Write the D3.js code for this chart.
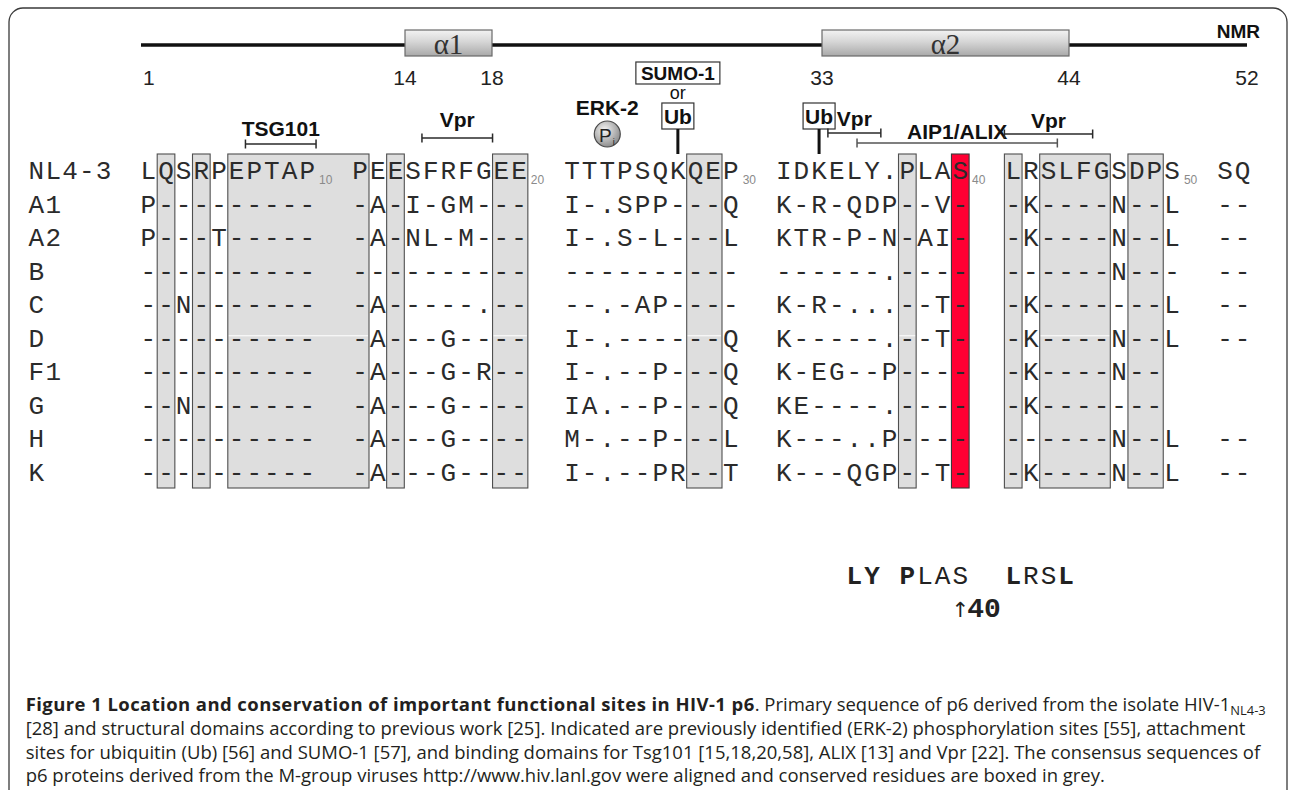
<!DOCTYPE html>
<html><head><meta charset="utf-8">
<script src="https://cdn.jsdelivr.net/npm/d3@7"></script>
<style>
html,body{margin:0;padding:0;background:#fff;}
svg{display:block;}
</style></head>
<body>
<svg id="fig" width="1290" height="790"></svg>
<script>
// ================= DATA =================
const scaleTicks = [1, 14, 18, 33, 44, 52];
const helixNames = ["α1", "α2"];
const helixStarts = [14, 33];
const helixEnds = [18, 44];

const rowNames = ["NL4-3", "A1", "A2", "B", "C", "D", "F1", "G", "H", "K"];
const rowBlocks = [
  ["LQSRPEPTAP", "PEESFRFGEE", "TTTPSQKQEP", "IDKELY.PLAS", "LRSLFGSDPS", "SQ"],
  ["P---------", "-A-I-GM---", "I-.SPP---Q", "K-R-QDP--V-", "-K----N--L", "--"],
  ["P---T-----", "-A-NL-M---", "I-.S-L---L", "KTR-P-N-AI-", "-K----N--L", "--"],
  ["----------", "----------", "----------", "------.----", "------N---", "--"],
  ["--N-------", "-A-----.--", "--.-AP----", "K-R-...--T-", "-K-------L", "--"],
  ["----------", "-A---G----", "I-.------Q", "K-----.--T-", "-K----N--L", "--"],
  ["----------", "-A---G-R--", "I-.--P---Q", "K-EG--P----", "-K----N--", ""],
  ["--N-------", "-A---G----", "IA.--P---Q", "KE----.----", "-K-------", ""],
  ["----------", "-A---G----", "M-.--P---L", "K---..P----", "------N--L", "--"],
  ["----------", "-A---G----", "I-.--PR--T", "K---QGP--T-", "-K----N--L", "--"]
];
const blockStartCols = [0, 12, 24, 36, 49, 61];
const blockNumbers = ["10", "20", "30", "40", "50", ""];

// conserved columns (boxed grey) and the key residue S40 (red)
const conservedRuns = [[1,1],[3,3],[5,12],[14,14],[20,21],[31,32],[43,43],[49,49],[51,54],[56,57]];
const keyRun = [46, 46];
const seamRuns = [[5,12],[20,21],[31,32],[43,43],[51,54]];

// functional sites (residue numbers)
const phosphoSites = [23];
const ubSites = [27, 33];
const sumoSites = [27];

// binding-domain brackets (column edges)
const bracketLabels = ["TSG101", "Vpr", "Vpr", "AIP1/ALIX", "Vpr"];
const bracketFrom = [6, 16, 39, 40.65, 49];
const bracketTo = [10, 20, 42, 52, 54];

// motif line
const motifChars = "LY.PLAS..LRSL";
const motifBold  = [1,1,0,1,0,0,0,0,0,1,0,0,1];
const motifStartCol = 40;
const arrowResidue = 40;
const arrowLabel = "40";

const captionBold = "Figure 1 Location and conservation of important functional sites in HIV-1 p6";
const captionLines = [
  ". Primary sequence of p6 derived from the isolate HIV-1",
  "[28] and structural domains according to previous work [25]. Indicated are previously identified (ERK-2) phosphorylation sites [55], attachment",
  "sites for ubiquitin (Ub) [56] and SUMO-1 [57], and binding domains for Tsg101 [15,18,20,58], ALIX [13] and Vpr [22]. The consensus sequences of",
  "p6 proteins derived from the M-group viruses http://www.hiv.lanl.gov were aligned and conserved residues are boxed in grey."
];
const captionSub = "NL4-3";

// ================= LAYOUT =================
const svg = d3.select("#fig");
const MONO = "'Liberation Mono', 'DejaVu Sans Mono', monospace";
const SANS = "'Liberation Sans', Arial, sans-serif";

const colW = 17.65, col0 = 139.55;
const colX = d3.scaleLinear().domain([0, 63]).range([col0, col0 + 63 * colW]);
const colC = c => colX(c + 0.5);
const labelX = d3.scaleLinear().domain([0, 1]).range([28, 28 + 16.8]);
const rowY = d3.scalePoint().domain(rowNames).range([179, 481]);
const topScale = d3.scaleLinear().domain(scaleTicks).range([141, 405, 492, 822, 1069, 1247]);
const boxTop = 154, boxBottom = 488;

// residue -> column map from the reference row
const resCol = {};
(function(){
  let r = 0;
  rowBlocks[0].forEach((blk, b) => {
    [...blk].forEach((ch, i) => { if (ch !== ".") { r++; resCol[r] = blockStartCols[b] + i; } });
  });
})();

// defs
const defs = svg.append("defs");
const lg = defs.append("linearGradient").attr("id", "helixGrad").attr("x1", 0).attr("y1", 0).attr("x2", 0).attr("y2", 1);
lg.append("stop").attr("offset", "0%").attr("stop-color", "#f3f3f3");
lg.append("stop").attr("offset", "45%").attr("stop-color", "#d6d6d6");
lg.append("stop").attr("offset", "100%").attr("stop-color", "#a9a9a9");
const rg = defs.append("radialGradient").attr("id", "pGrad").attr("cx", "40%").attr("cy", "35%").attr("r", "65%");
rg.append("stop").attr("offset", "0%").attr("stop-color", "#f5f5f5");
rg.append("stop").attr("offset", "100%").attr("stop-color", "#8e8e8e");

// frame (bottom edge runs off the page)
svg.append("rect").attr("x", 9).attr("y", 8).attr("width", 1278).attr("height", 800)
  .attr("rx", 14).attr("fill", "none").attr("stroke", "#3a3a3a").attr("stroke-width", 1.3);

// ---- top domain line ----
svg.append("line").attr("x1", topScale(1)).attr("x2", topScale(52)).attr("y1", 45).attr("y2", 45)
  .attr("stroke", "#111").attr("stroke-width", 3.5);
helixNames.forEach((nm, i) => {
  const x1 = topScale(helixStarts[i]), x2 = topScale(helixEnds[i]);
  svg.append("rect").attr("x", x1).attr("y", 30).attr("width", x2 - x1).attr("height", 26)
    .attr("fill", "url(#helixGrad)").attr("stroke", "#6a6a6a").attr("stroke-width", 1.2);
  svg.append("text").attr("x", (x1 + x2) / 2).attr("y", 54).attr("text-anchor", "middle")
    .attr("font-family", "'Liberation Serif', 'DejaVu Serif', serif").attr("font-size", 29)
    .attr("fill", "#333").text(nm);
});
scaleTicks.forEach((t, i) => {
  svg.append("text").attr("x", i === 0 ? topScale(t) + 2 : topScale(t))
    .attr("y", 85).attr("text-anchor", i === 0 ? "start" : "middle")
    .attr("font-family", SANS).attr("font-size", 21).attr("fill", "#222").text(t);
});
svg.append("text").attr("x", 1260).attr("y", 38).attr("text-anchor", "end")
  .attr("font-family", SANS).attr("font-weight", "bold").attr("font-size", 19).attr("fill", "#111").text("NMR");

// ---- conserved boxes ----
const gBoxes = svg.append("g");
gBoxes.selectAll("rect.cons").data(conservedRuns).join("rect").attr("class", "cons")
  .attr("x", d => colX(d[0])).attr("width", d => colX(d[1] + 1) - colX(d[0]))
  .attr("y", boxTop).attr("height", boxBottom - boxTop)
  .attr("fill", "#dedede").attr("stroke", "#4f4f4f").attr("stroke-width", 1.1);
gBoxes.append("rect").attr("x", colX(keyRun[0])).attr("width", colX(keyRun[1] + 1) - colX(keyRun[0]))
  .attr("y", boxTop).attr("height", boxBottom - boxTop)
  .attr("fill", "#ff0033").attr("stroke", "#3a3a3a").attr("stroke-width", 1.1);
gBoxes.selectAll("line.seam").data(seamRuns).join("line").attr("class", "seam")
  .attr("x1", d => colX(d[0]) + 1).attr("x2", d => colX(d[1] + 1) - 1)
  .attr("y1", rowY("D") - 11).attr("y2", rowY("D") - 11).attr("stroke", "#fff").attr("stroke-width", 1);

// ---- sequence rows ----
const gSeq = svg.append("g").attr("font-family", MONO).attr("font-size", 26).attr("fill", "#2b2b2b");
rowNames.forEach((nm, r) => {
  const y = rowY(nm);
  [...nm].forEach((ch, k) => {
    gSeq.append("text").attr("x", labelX(k + 0.5)).attr("y", y).attr("text-anchor", "middle").text(ch);
  });
  rowBlocks[r].forEach((blk, b) => {
    [...blk].forEach((ch, i) => {
      if (ch === " ") return;
      gSeq.append("text").attr("x", colC(blockStartCols[b] + i)).attr("y", y)
        .attr("text-anchor", "middle").text(ch);
    });
  });
});
// residue numbers on reference row
rowBlocks[0].forEach((blk, b) => {
  if (!blockNumbers[b]) return;
  svg.append("text").attr("x", colX(blockStartCols[b] + blk.length) + 3).attr("y", rowY(rowNames[0]) + 5)
    .attr("font-family", SANS).attr("font-size", 12).attr("fill", "#8a8a8a").text(blockNumbers[b]);
});

// ---- site annotations ----
sumoSites.forEach(r => {
  const cx = colC(resCol[r]);
  svg.append("rect").attr("x", cx - 42).attr("y", 62).attr("width", 84).attr("height", 22)
    .attr("fill", "#fff").attr("stroke", "#333").attr("stroke-width", 1.2);
  svg.append("text").attr("x", cx).attr("y", 80).attr("text-anchor", "middle")
    .attr("font-family", SANS).attr("font-weight", "bold").attr("font-size", 19).attr("fill", "#111").text("SUMO-1");
  svg.append("text").attr("x", cx).attr("y", 99).attr("text-anchor", "middle")
    .attr("font-family", SANS).attr("font-size", 18).attr("fill", "#111").text("or");
});
ubSites.forEach(r => {
  const cx = colC(resCol[r]);
  svg.append("rect").attr("x", cx - 16).attr("y", 103).attr("width", 32).attr("height", 26)
    .attr("fill", "#fff").attr("stroke", "#333").attr("stroke-width", 1.2);
  svg.append("text").attr("x", cx).attr("y", 123.5).attr("text-anchor", "middle")
    .attr("font-family", SANS).attr("font-weight", "bold").attr("font-size", 21).attr("fill", "#111").text("Ub");
  svg.append("line").attr("x1", cx).attr("x2", cx).attr("y1", 129).attr("y2", boxTop)
    .attr("stroke", "#111").attr("stroke-width", 3);
});
phosphoSites.forEach(r => {
  const cx = colC(resCol[r]);
  svg.append("text").attr("x", cx).attr("y", 115).attr("text-anchor", "middle")
    .attr("font-family", SANS).attr("font-weight", "bold").attr("font-size", 21).attr("fill", "#111").text("ERK-2");
  svg.append("circle").attr("cx", cx).attr("cy", 134).attr("r", 13)
    .attr("fill", "url(#pGrad)").attr("stroke", "#4a4a4a").attr("stroke-width", 1.2);
  svg.append("text").attr("x", cx - 2).attr("y", 141.5).attr("text-anchor", "middle")
    .attr("font-family", SANS).attr("font-size", 19).attr("fill", "#222").text("P");
  svg.append("text").attr("x", cx + 6.5).attr("y", 144.5).attr("text-anchor", "middle")
    .attr("font-family", SANS).attr("font-size", 9).attr("fill", "#222").text("i");
});

// ---- brackets ----
const bracketY = [144, 138, 133, 143, 134];
const bracketLabelDy = [-8, -11, -7, -4, -6];
bracketLabels.forEach((lab, i) => {
  const x1 = colX(bracketFrom[i]), x2 = colX(bracketTo[i]), y = bracketY[i];
  const col = lab === "AIP1/ALIX" ? "#555" : "#2a2a2a";
  const g = svg.append("g").attr("stroke", col).attr("stroke-width", 1.5);
  g.append("line").attr("x1", x1).attr("x2", x2).attr("y1", y).attr("y2", y);
  g.append("line").attr("x1", x1).attr("x2", x1).attr("y1", y - 4.5).attr("y2", y + 4.5);
  g.append("line").attr("x1", x2).attr("x2", x2).attr("y1", y - 4.5).attr("y2", y + 4.5);
  svg.append("text").attr("x", (x1 + x2) / 2).attr("y", y + bracketLabelDy[i]).attr("text-anchor", "middle")
    .attr("font-family", SANS).attr("font-weight", "bold").attr("font-size", 21).attr("fill", "#111").text(lab);
});

// ---- motif ----
[...motifChars].forEach((ch, i) => {
  if (ch === ".") return;
  svg.append("text").attr("x", colC(motifStartCol + i)).attr("y", 584).attr("text-anchor", "middle")
    .attr("font-family", MONO).attr("font-size", 26).attr("font-weight", motifBold[i] ? "bold" : "normal")
    .attr("fill", "#222").text(ch);
});
const ax = colC(resCol[arrowResidue]);
svg.append("text").attr("x", ax).attr("y", 617).attr("text-anchor", "middle")
  .attr("font-family", "'DejaVu Sans', sans-serif").attr("font-size", 21).attr("fill", "#222").text("↑");
svg.append("text").attr("x", ax + 7).attr("y", 617).attr("text-anchor", "start")
  .attr("font-family", MONO).attr("font-weight", "bold").attr("font-size", 28).attr("fill", "#222").text(arrowLabel);

// ---- caption ----
const CAP = "'Open Sans', 'Noto Sans', sans-serif";
const capY = [711, 735, 759, 782];
const capG = svg.append("g").attr("font-family", CAP).attr("fill", "#231f20");
const probe = capG.append("text").attr("font-size", 19).text(captionLines[3]);
const fs = 19 * 1080 / probe.node().getComputedTextLength();
probe.remove();
const t1 = capG.append("text").attr("x", 25.7).attr("y", capY[0]).attr("font-size", fs);
const tb = t1.append("tspan").attr("font-weight", "bold").text(captionBold);
t1.append("tspan").text(captionLines[0]);
t1.append("tspan").attr("font-size", fs * 0.7).attr("dy", 4).text(captionSub);
const extra = 1240 - t1.node().getComputedTextLength();
if (extra > 0) tb.attr("letter-spacing", extra / captionBold.length);
for (let i = 1; i < 4; i++) {
  capG.append("text").attr("x", 25.7).attr("y", capY[i]).attr("font-size", fs).text(captionLines[i]);
}
</script>
</body></html>
